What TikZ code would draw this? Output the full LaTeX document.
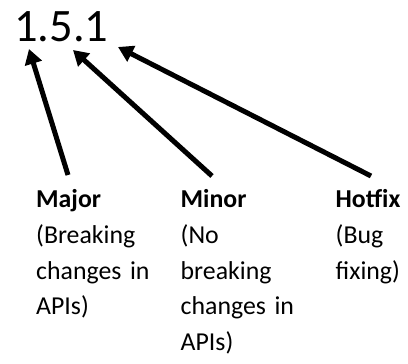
\documentclass[tikz,border=0pt]{standalone}
\usepackage{fontspec}
\setmainfont{Carlito}
\usetikzlibrary{arrows.meta}
\tikzset{
  version/.style={inner sep=0pt, anchor=base west, font=\fontsize{46.5bp}{50bp}\selectfont},
  column/.style={inner sep=0pt, anchor=base west, text width=150bp, align=left,
    font=\fontsize{25.8bp}{35.8bp}\selectfont},
  pointer/.style={line width=5bp, -{Triangle[length=15bp,width=17bp]}}
}
\begin{document}
\begin{tikzpicture}[x=1bp,y=-1bp]
\useasboundingbox (0,0) rectangle (408,364);
\node[version] (ver) at (14,41.7) {1.5.1};
\node[column] (major) at (36,207.5) {\textbf{Major}\\(Breaking\\changes in\\APIs)};
\node[column] (minor) at (180.5,207.5) {\textbf{Minor}\\(No\\breaking\\changes in\\APIs)};
\node[column] (hotfix) at (335.5,207.5) {\textbf{Hotfix}\\(Bug\\fixing)};
\coordinate (tailA) at (68,175);
\coordinate (tipA) at (29,49);
\coordinate (tailB) at (212,176);
\coordinate (tipB) at (73,50);
\coordinate (tailC) at (371,176);
\coordinate (tipC) at (118,47);
\draw[pointer] (tailA) -- (tipA);
\draw[pointer] (tailB) -- (tipB);
\draw[pointer] (tailC) -- (tipC);
\end{tikzpicture}
\end{document}
